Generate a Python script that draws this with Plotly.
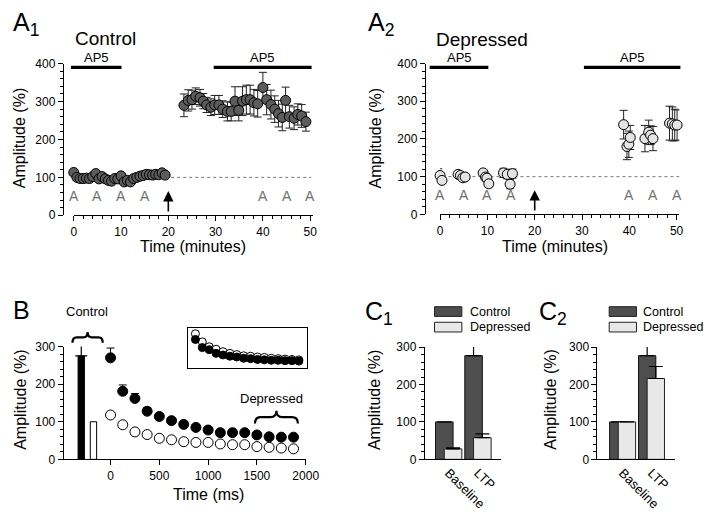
import plotly.graph_objects as go

# page is 720x522; the browser body keeps its default 8px margin, so the figure is 704x506
PAGE_W, PAGE_H = 720, 522
OFF = 8
W, H = PAGE_W - 2 * OFF, PAGE_H - 2 * OFF
FONT = "Liberation Sans, Arial, Helvetica, sans-serif"

# ---------------- data ----------------
# Panel A1 (Control)
a1_base_t = [0, 0.67, 1.33, 2.0, 2.67, 3.33, 4.0, 4.67, 5.33, 6.0, 6.67, 7.33, 8.0, 8.67, 9.33,
             10.0, 10.67, 11.33, 12.0, 12.67, 13.33, 14.0, 14.67, 15.33, 16.0, 16.67, 17.33, 18.0, 18.67, 19.33]
a1_base_amp = [113, 100, 97, 97, 98, 97, 102, 110, 96, 102, 96, 92, 90, 97, 96,
               104, 88, 92, 88, 97, 100, 103, 105, 108, 107, 106, 108, 107, 112, 106]
a1_post_t = [23.3, 24.2, 25.0, 25.8, 26.7, 27.4, 28.1, 29.0, 29.8, 30.7, 31.5, 32.5, 33.3, 34.1, 34.9, 35.7,
             36.5, 37.3, 38.1, 38.9, 40.0, 40.8, 41.7, 42.5, 43.3, 44.1, 44.8, 45.6, 46.6, 47.4, 48.2, 49.1]
a1_post_amp = [290, 303, 305, 314, 310, 301, 291, 285, 291, 291, 280, 274, 274, 301, 277, 301,
               305, 305, 297, 294, 337, 305, 292, 280, 268, 258, 303, 260, 256, 266, 262, 247]
a1_post_err = [30, 28, 25, 22, 22, 20, 20, 22, 25, 25, 22, 25, 25, 38, 28, 38,
               38, 38, 35, 35, 40, 40, 38, 35, 35, 35, 35, 30, 30, 28, 30, 25]

# Panel A2 (Depressed)
a2_t = [-0.9, -0.4, 0.0, 0.4, 3.8, 4.3, 4.8, 5.3, 9.1, 9.6, 9.9, 10.3, 13.4, 14.2, 14.8, 15.3,
        38.8, 39.5, 39.9, 40.2, 43.3, 44.1, 44.5, 45.0, 48.5, 49.1, 49.6, 50.1]
a2_amp = [122, 113, 103, 90, 106, 103, 97, 99, 110, 99, 96, 81, 110, 106, 80, 108,
          238, 180, 186, 204, 201, 218, 210, 201, 242, 240, 237, 237]
a2_err = [8, 8, 8, 8, 6, 6, 6, 6, 8, 8, 8, 8, 12, 12, 12, 12,
          38, 35, 35, 32, 35, 32, 25, 32, 45, 45, 42, 40]

# Test-pulse marks and tetanus time
test_t = [0, 5, 10, 15, 40, 45, 50]
tetanus_t = 20
ap5_a1 = [(-0.6, 10.1), (29.6, 50.3)]
ap5_a2 = [(-2.2, 10.2), (30.4, 50.8)]

# Panel B
b_t = [0, 125, 250, 375, 500, 625, 750, 875, 1000, 1125, 1250, 1375, 1500, 1625, 1750, 1875]
b_ctrl = [270, 181, 162, 128, 114, 103, 93, 85, 78, 71, 71, 71, 65, 60, 59, 59]
b_ctrl_err = [26, 17, 13, 10, 8, 7, 6, 6, 5, 5, 5, 5, 5, 5, 5, 5]
b_dep = [118, 92, 73, 66, 56, 52, 47, 45, 45, 41, 39, 39, 34, 32, 30, 28]
b_bar_ctrl, b_bar_ctrl_err = 275, 30
b_bar_dep = 100
inset_dep = [0.85, 0.65, 0.53, 0.47, 0.41, 0.37, 0.34, 0.31, 0.30, 0.28, 0.27, 0.25, 0.24, 0.23, 0.22, 0.21]
inset_ctrl = [0.71, 0.51, 0.46, 0.37, 0.33, 0.30, 0.28, 0.25, 0.24, 0.22, 0.21, 0.20, 0.20, 0.19, 0.19, 0.18]

# Panels C
c_cats = ["Baseline", "LTP"]
c1_ctrl, c1_ctrl_err = [100, 277], [0, 31]
c1_dep, c1_dep_err = [28, 58], [3, 10]
c2_ctrl, c2_ctrl_err = [100, 277], [0, 30]
c2_dep, c2_dep_err = [100, 216], [0, 32]

# ---------------- helpers (page pixel -> paper) ----------------
def px(x):
    return (x - OFF) / W

def py(y):
    return 1 - (y - OFF) / H

def dmap(dom, rng, v):
    return dom[0] + (v - rng[0]) / (rng[1] - rng[0]) * (dom[1] - dom[0])

annotations = []
shapes = []

def text(x, y, s, size=13, xanchor="center", yanchor="middle", angle=0):
    annotations.append(dict(x=px(x), y=py(y), xref="paper", yref="paper", text=s, showarrow=False,
                            font=dict(size=size, family=FONT, color="black"),
                            xanchor=xanchor, yanchor=yanchor, textangle=angle))

def brace(x0, x1, ytop, ybot):
    xm = (x0 + x1) / 2
    ym = (ytop + ybot) / 2
    q = (x1 - x0) * 0.14
    pts = [("M", [(x0, ybot)]), ("Q", [(x0, ym), (x0 + q, ym)]), ("L", [(xm - q, ym)]),
           ("Q", [(xm, ym), (xm, ytop)]), ("Q", [(xm, ym), (xm + q, ym)]), ("L", [(x1 - q, ym)]),
           ("Q", [(x1, ym), (x1, ybot)])]
    path = ""
    for cmd, ps in pts:
        path += cmd + " ".join(f"{px(a):.5f},{py(b):.5f}" for a, b in ps) + " "
    shapes.append(dict(type="path", xref="paper", yref="paper", path=path.strip(),
                       line=dict(color="black", width=2.2)))

axis_common = dict(showgrid=False, zeroline=False, showline=True, linecolor="black", linewidth=1,
                   ticks="outside", tickcolor="black", ticklen=5, tickwidth=1,
                   tickfont=dict(size=12, family=FONT, color="black"))

fig = go.Figure()

# ---------------- A1 ----------------
a1_xdom = [px(72.3), px(317)]
a1_xr = [0, 50.5]
a1_ydom = [py(214), py(58)]
a1_yr = [0, 400]
mk_dark = dict(size=10, color="#5c5c5c", line=dict(color="black", width=1))
mk_light = dict(size=10, color="#e4e4e4", line=dict(color="black", width=1))

fig.add_trace(go.Scatter(x=[tetanus_t + 0.6, a1_xr[1] - 0.3], y=[100, 100], mode="lines",
                         line=dict(color="#777", width=1, dash="dot"), xaxis="x", yaxis="y",
                         showlegend=False, hoverinfo="skip"))
fig.add_trace(go.Scatter(x=a1_base_t, y=a1_base_amp, mode="markers", marker=mk_dark,
                         xaxis="x", yaxis="y", cliponaxis=False, showlegend=False))
fig.add_trace(go.Scatter(x=a1_post_t, y=a1_post_amp, mode="markers", marker=mk_dark,
                         error_y=dict(type="data", array=a1_post_err, color="#222", thickness=1, width=4),
                         xaxis="x", yaxis="y", cliponaxis=False, showlegend=False))

# ---------------- A2 ----------------
a2_xdom = [px(447.7), px(693)]
a2_xr = [0, 50.6]
a2_ydom = [py(213), py(58)]
a2_yr = [0, 400]
fig.add_trace(go.Scatter(x=[0.5, a2_xr[1]], y=[100, 100], mode="lines",
                         line=dict(color="#777", width=1, dash="dot"), xaxis="x2", yaxis="y2",
                         showlegend=False, hoverinfo="skip"))
fig.add_trace(go.Scatter(x=a2_t, y=a2_amp, mode="markers", marker=mk_light,
                         error_y=dict(type="data", array=a2_err, color="#222", thickness=1, width=4),
                         xaxis="x2", yaxis="y2", cliponaxis=False, showlegend=False))

for (xd, xr, yd, yr, xa, ya, ap5) in [(a1_xdom, a1_xr, a1_ydom, a1_yr, "x", "y", ap5_a1),
                                      (a2_xdom, a2_xr, a2_ydom, a2_yr, "x2", "y2", ap5_a2)]:
    for t in test_t:
        annotations.append(dict(x=t, y=52, xref=xa, yref=ya, text="A", showarrow=False,
                                xanchor="center", yanchor="middle",
                                font=dict(size=14, family=FONT, color="#707070")))
    annotations.append(dict(x=tetanus_t, y=64, xref=xa, yref=ya, ax=tetanus_t, ay=6, axref=xa, ayref=ya,
                            text="", showarrow=True, arrowhead=2, arrowsize=1.3, arrowwidth=1.6,
                            arrowcolor="black"))
    for (s, e) in ap5:
        shapes.append(dict(type="line", xref="paper", yref="paper",
                           x0=dmap(xd, xr, s), x1=dmap(xd, xr, e),
                           y0=dmap(yd, yr, 390), y1=dmap(yd, yr, 390),
                           line=dict(color="black", width=3.2)))
        annotations.append(dict(x=dmap(xd, xr, (s + e) / 2), y=dmap(yd, yr, 415), xref="paper", yref="paper",
                                text="AP5", showarrow=False, xanchor="center", yanchor="middle",
                                font=dict(size=13, family=FONT, color="black")))

# ---------------- B ----------------
b_xdom = [px(62), px(310)]
b_xr = [-480, 2000]
b_ydom = [py(465), py(349)]
b_yr = [0, 300]
bar_w = 65
fig.add_trace(go.Bar(x=[-300], y=[b_bar_ctrl], width=[bar_w], marker=dict(color="black", line=dict(color="black", width=1)),
                     error_y=dict(type="data", array=[b_bar_ctrl_err], arrayminus=[0], symmetric=False,
                                  color="black", thickness=1.2, width=6),
                     xaxis="x3", yaxis="y3", showlegend=False, cliponaxis=False))
fig.add_trace(go.Bar(x=[-175], y=[b_bar_dep], width=[bar_w], marker=dict(color="white", line=dict(color="black", width=1)),
                     xaxis="x3", yaxis="y3", showlegend=False))
fig.add_trace(go.Scatter(x=b_t, y=b_dep, mode="markers",
                         marker=dict(size=10, color="white", line=dict(color="black", width=1)),
                         xaxis="x3", yaxis="y3", cliponaxis=False, showlegend=False))
fig.add_trace(go.Scatter(x=b_t, y=b_ctrl, mode="markers",
                         marker=dict(size=10, color="black", line=dict(color="black", width=1)),
                         error_y=dict(type="data", array=b_ctrl_err, arrayminus=[0] * len(b_ctrl_err),
                                      symmetric=False, color="black", thickness=1, width=4),
                         xaxis="x3", yaxis="y3", cliponaxis=False, showlegend=False))

# inset
in_xdom = [px(189), px(311)]
in_ydom = [py(371.5), py(329.5)]
fig.add_trace(go.Scatter(x=b_t, y=inset_dep, mode="markers",
                         marker=dict(size=8, color="white", line=dict(color="black", width=1)),
                         xaxis="x4", yaxis="y4", cliponaxis=False, showlegend=False))
fig.add_trace(go.Scatter(x=b_t, y=inset_ctrl, mode="markers",
                         marker=dict(size=8, color="black", line=dict(color="black", width=1)),
                         xaxis="x4", yaxis="y4", cliponaxis=False, showlegend=False))

# ---------------- C1 / C2 ----------------
ctrl_col = "#4e4e4e"
dep_col = "#e8e8e8"
c_off, c_w = 0.15, 0.6
c1_xdom = [px(432), px(510)]
c1_xr = [-0.817, 1.783]
c2_xdom = [px(609), px(688)]
c2_xr = [-0.87, 1.80]
c_ydom = [py(465), py(349.5)]
c_yr = [0, 300]
for (ctrl, cerr, dep, derr, xa, ya) in [(c1_ctrl, c1_ctrl_err, c1_dep, c1_dep_err, "x5", "y5"),
                                        (c2_ctrl, c2_ctrl_err, c2_dep, c2_dep_err, "x6", "y6")]:
    pos = list(range(len(c_cats)))
    fig.add_trace(go.Bar(x=[p - c_off for p in pos], y=ctrl, width=c_w,
                         marker=dict(color=ctrl_col, line=dict(color="#111", width=1)),
                         error_y=dict(type="data", array=cerr, arrayminus=[0] * len(cerr), symmetric=False,
                                      color="black", thickness=1.2, width=7),
                         xaxis=xa, yaxis=ya, showlegend=False, cliponaxis=False))
    fig.add_trace(go.Bar(x=[p + c_off for p in pos], y=dep, width=c_w,
                         marker=dict(color=dep_col, line=dict(color="#222", width=1)),
                         error_y=dict(type="data", array=derr, arrayminus=[0] * len(derr), symmetric=False,
                                      color="black", thickness=1.2, width=7),
                         xaxis=xa, yaxis=ya, showlegend=False, cliponaxis=False))

# legends of C panels
for (sx, tx) in [(442, 476), (621, 654)]:
    for (yy, col, lab) in [(313, ctrl_col, "Control"), (329, dep_col, "Depressed")]:
        shapes.append(dict(type="rect", xref="paper", yref="paper", x0=px(sx), x1=px(sx + 28),
                           y0=py(yy + 5), y1=py(yy - 5), fillcolor=col, line=dict(color="#222", width=1)))
        text(tx, yy, lab, size=12.5, xanchor="left")

# ---------------- layout axes ----------------
layout = dict(width=W, height=H, autosize=False, margin=dict(l=0, r=0, t=0, b=0, pad=0), paper_bgcolor="white",
              plot_bgcolor="rgba(0,0,0,0)", barmode="overlay", font=dict(family=FONT, color="black"))

minor_y = dict(dtick=20, ticks="outside", ticklen=3, tickcolor="black", showgrid=False)
minor_x = dict(dtick=2, ticks="outside", ticklen=3, tickcolor="black", showgrid=False)

layout["xaxis"] = dict(axis_common, domain=a1_xdom, range=a1_xr, anchor="y", tickvals=[0, 10, 20, 30, 40, 50], minor=minor_x)
layout["yaxis"] = dict(axis_common, domain=a1_ydom, range=a1_yr, anchor="free", position=px(61),
                       tickvals=[0, 100, 200, 300, 400], minor=minor_y)
layout["xaxis2"] = dict(axis_common, domain=a2_xdom, range=a2_xr, anchor="y2", tickvals=[0, 10, 20, 30, 40, 50], minor=minor_x)
layout["yaxis2"] = dict(axis_common, domain=a2_ydom, range=a2_yr, anchor="free", position=px(432),
                        tickvals=[0, 100, 200, 300, 400], minor=minor_y)
layout["xaxis3"] = dict(axis_common, domain=b_xdom, range=b_xr, anchor="y3", tickvals=[0, 500, 1000, 1500, 2000])
layout["yaxis3"] = dict(axis_common, domain=b_ydom, range=b_yr, anchor="x3", tickvals=[0, 100, 200, 300], minor=minor_y)
layout["xaxis4"] = dict(domain=in_xdom, range=[-141, 2017], anchor="y4", showgrid=False, zeroline=False,
                        showline=True, mirror=True, linecolor="black", linewidth=1.2, showticklabels=False, ticks="")
layout["yaxis4"] = dict(domain=in_ydom, range=[0, 1], anchor="x4", showgrid=False, zeroline=False,
                        showline=True, mirror=True, linecolor="black", linewidth=1.2, showticklabels=False, ticks="")
for xa, ya, xd, xr in [("xaxis5", "yaxis5", c1_xdom, c1_xr), ("xaxis6", "yaxis6", c2_xdom, c2_xr)]:
    layout[xa] = dict(axis_common, domain=xd, range=xr, anchor="y" + ya[-1], tickvals=list(range(len(c_cats))),
                      ticktext=c_cats, tickangle=45, ticks="", tickfont=dict(size=13, family=FONT, color="black"))
    layout[ya] = dict(axis_common, domain=c_ydom, range=c_yr, anchor="x" + xa[-1],
                      tickvals=[0, 100, 200, 300], minor=minor_y)

# ---------------- texts ----------------
text(8, 17, "A<sub>1</sub>", size=25, xanchor="left")
text(72, 32, "Control", size=19, xanchor="left")
text(372, 17, "A<sub>2</sub>", size=25, xanchor="left")
text(441, 33, "Depressed", size=19, xanchor="left")
text(17, 135, "Amplitude (%)", size=16, angle=-90)
text(381, 135, "Amplitude (%)", size=16, angle=-90)
text(194, 246, "Time (minutes)", size=16)
text(565, 246, "Time (minutes)", size=16)

text(8, 311, "B", size=25, xanchor="left")
text(86, 313, "Control", size=13)
text(275, 402, "Depressed", size=13)
text(17, 404, "Amplitude (%)", size=16, angle=-90)
text(210, 501, "Time (ms)", size=16)
brace(71, 102, 334, 345)
brace(258, 302, 415, 428)

text(369, 314, "C<sub>1</sub>", size=25, xanchor="left")
text(547, 314, "C<sub>2</sub>", size=25, xanchor="left")
text(380, 404, "Amplitude (%)", size=16, angle=-90)
text(560, 404, "Amplitude (%)", size=16, angle=-90)

layout["annotations"] = annotations
layout["shapes"] = shapes
fig.update_layout(**layout)
fig.write_html("out.html", config={"responsive": False, "displayModeBar": False})
